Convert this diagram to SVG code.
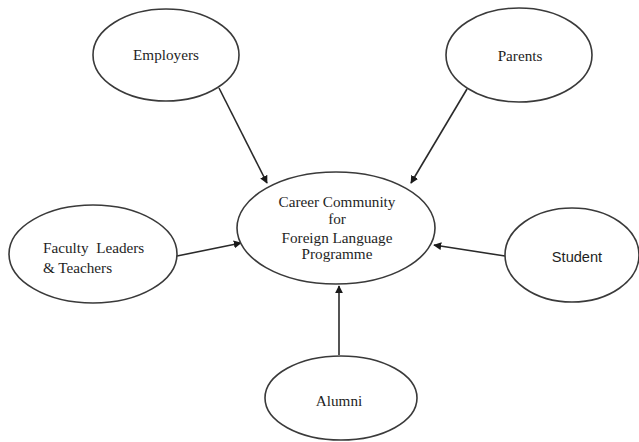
<svg xmlns="http://www.w3.org/2000/svg" width="639" height="442" viewBox="0 0 639 442">
  <style>
    .node ellipse { fill: #ffffff; stroke: #3a3a3a; stroke-width: 1.6; }
    .lbl { font-family: "Liberation Serif", "Times New Roman", serif; font-size: 15.2px; fill: #1e1e1e; text-anchor: middle; }
    .sans { font-family: "Liberation Sans", Arial, sans-serif; font-size: 14.6px; }
    .left { text-anchor: start; }
    #connectors line { stroke: #2a2a2a; stroke-width: 1.6; marker-end: url(#arrow); }
  </style>
  <defs>
    <marker id="arrow" viewBox="0 0 10 10" refX="9" refY="5" markerWidth="8" markerHeight="8" markerUnits="userSpaceOnUse" orient="auto">
      <path d="M0,0 L10,5 L0,10 z" fill="#1a1a1a"/>
    </marker>
  </defs>
  <rect width="639" height="442" fill="#ffffff"/>

  <g id="connectors">
    <line x1="219" y1="88" x2="267" y2="183"/>
    <line x1="467" y1="89" x2="411" y2="183"/>
    <line x1="177" y1="256" x2="241" y2="243"/>
    <line x1="505" y1="256" x2="434" y2="245"/>
    <line x1="339" y1="355" x2="339" y2="286"/>
  </g>

  <g id="employers" class="node">
    <ellipse cx="166" cy="55" rx="73" ry="46"/>
    <text class="lbl" x="166" y="60">Employers</text>
  </g>

  <g id="parents" class="node">
    <ellipse cx="519" cy="55" rx="73" ry="47"/>
    <text class="lbl" x="520" y="61">Parents</text>
  </g>

  <g id="career-community" class="node">
    <ellipse cx="336" cy="228" rx="99" ry="56"/>
    <text class="lbl" x="337" y="207">Career Community</text>
    <text class="lbl" x="337" y="224">for</text>
    <text class="lbl" x="337" y="243">Foreign Language</text>
    <text class="lbl" x="337" y="259">Programme</text>
  </g>

  <g id="faculty" class="node">
    <ellipse cx="93" cy="254" rx="84" ry="49"/>
    <text class="lbl left" x="43" y="253" xml:space="preserve">Faculty  Leaders</text>
    <text class="lbl left" x="43" y="273">&amp; Teachers</text>
  </g>

  <g id="student" class="node">
    <ellipse cx="572" cy="255" rx="67" ry="47"/>
    <text class="lbl sans" x="577" y="262">Student</text>
  </g>

  <g id="alumni" class="node">
    <ellipse cx="341" cy="398" rx="76" ry="42"/>
    <text class="lbl" x="339" y="406">Alumni</text>
  </g>
</svg>
